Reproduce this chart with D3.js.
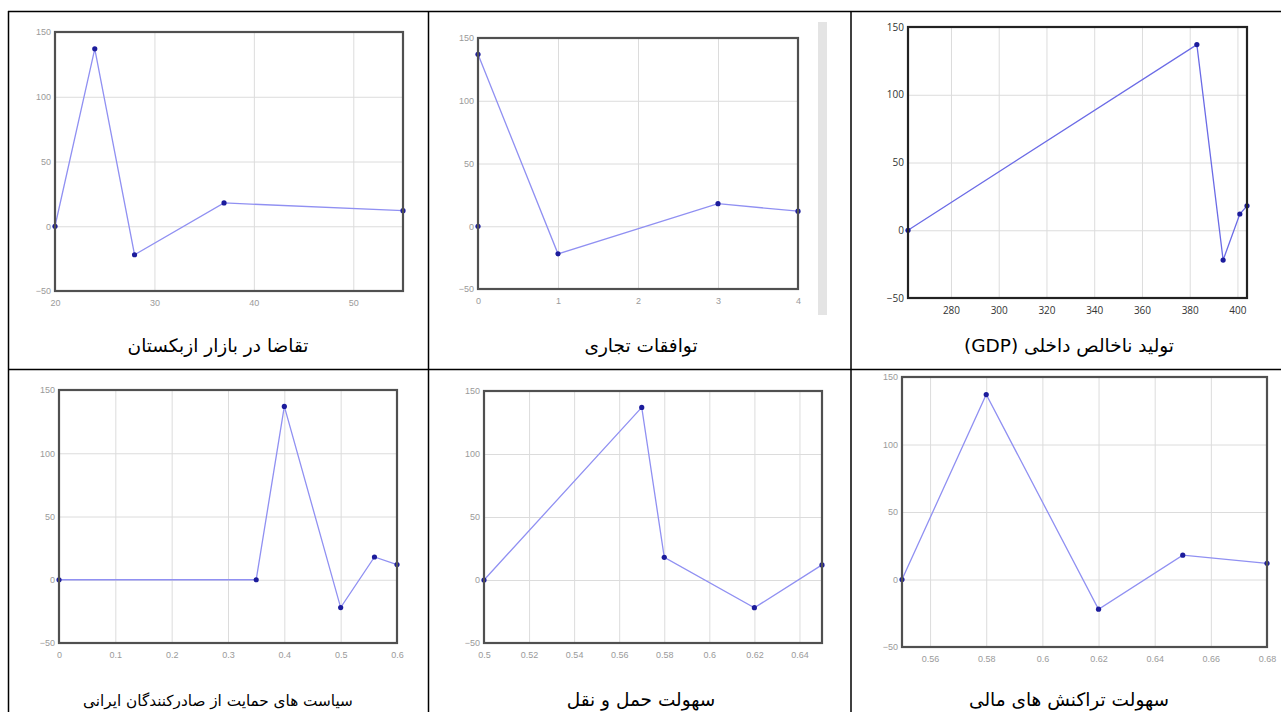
<!DOCTYPE html>
<html>
<head>
<meta charset="utf-8">
<script src="https://cdn.jsdelivr.net/npm/d3@7"></script>
<style>
  body { margin: 0; background: #fff; }
  svg { display: block; }
  .tick text { font-family: "Liberation Sans", Arial, sans-serif; }
  .caption { font-family: "DejaVu Sans", sans-serif; font-size: 18.5px; fill: #000; }
</style>
</head>
<body>
<svg id="sheet" width="1281" height="712"></svg>
<script>
// values
const yTicks = [-50, 0, 50, 100, 150]

const uzbekDemandX = [20, 24, 28, 37, 55]
const uzbekDemandY = [0, 137, -22, 18, 12]
const uzbekDemandTicks = [20, 30, 40, 50]

const tradeAgreementsX = [0, 0, 1, 3, 4]
const tradeAgreementsY = [0, 137, -22, 18, 12]
const tradeAgreementsTicks = [0, 1, 2, 3, 4]

const gdpX = [262, 383, 394, 401, 404]
const gdpY = [0, 137, -22, 12, 18]
const gdpTicks = [280, 300, 320, 340, 360, 380, 400]

const exporterSupportX = [0, 0.35, 0.4, 0.5, 0.56, 0.6]
const exporterSupportY = [0, 0, 137, -22, 18, 12]
const exporterSupportTicks = [0, 0.1, 0.2, 0.3, 0.4, 0.5, 0.6]

const transportX = [0.5, 0.57, 0.58, 0.62, 0.65]
const transportY = [0, 137, 18, -22, 12]
const transportTicks = [0.5, 0.52, 0.54, 0.56, 0.58, 0.6, 0.62, 0.64]

const financeX = [0.55, 0.58, 0.62, 0.65, 0.68]
const financeY = [0, 137, -22, 18, 12]
const financeTicks = [0.56, 0.58, 0.6, 0.62, 0.64, 0.66, 0.68]

const captions = [
  'تقاضا در بازار ازبکستان',
  'توافقات تجاری',
  'تولید ناخالص داخلی (GDP)',
  'سیاست های حمایت از صادرکنندگان ایرانی',
  'سهولت حمل و نقل',
  'سهولت تراکنش های مالی'
]

const svg = d3.select('#sheet')

// panel boxes, in page pixels
const panels = [
  { x: uzbekDemandX, y: uzbekDemandY, ticks: uzbekDemandTicks, domain: [20, 55],
    box: { l: 55, t: 32, r: 403, b: 291 }, crisp: false },
  { x: tradeAgreementsX, y: tradeAgreementsY, ticks: tradeAgreementsTicks, domain: [0, 4],
    box: { l: 478, t: 38, r: 798, b: 289 }, crisp: false },
  { x: gdpX, y: gdpY, ticks: gdpTicks, domain: [262, 404],
    box: { l: 908, t: 27, r: 1247, b: 298 }, crisp: true },
  { x: exporterSupportX, y: exporterSupportY, ticks: exporterSupportTicks, domain: [0, 0.6],
    box: { l: 59, t: 390, r: 397, b: 643 }, crisp: false },
  { x: transportX, y: transportY, ticks: transportTicks, domain: [0.5, 0.65],
    box: { l: 484, t: 391, r: 822, b: 643 }, crisp: false },
  { x: financeX, y: financeY, ticks: financeTicks, domain: [0.55, 0.68],
    box: { l: 902, t: 377, r: 1267, b: 647 }, crisp: false }
]

// scrollbar strip beside the second screenshot
svg.append('rect')
    .attr('x', 818).attr('y', 22).attr('width', 9).attr('height', 293)
    .attr('fill', '#e4e4e4')

panels.forEach(drawPanel)

// table rules
const rule = (x1, y1, x2, y2) => svg.append('line')
    .attr('x1', x1).attr('y1', y1).attr('x2', x2).attr('y2', y2)
    .attr('stroke', '#000').attr('stroke-width', 1.5)

rule(8, 11.5, 1281, 11.5)
rule(8, 369.5, 1281, 369.5)
rule(8.5, 11, 8.5, 712)
rule(428.5, 11, 428.5, 712)
rule(851, 11, 851, 712)

const colCenters = [218, 641, 1069]
const rowBaselines = [352, 706]
const maxCaptionWidth = 270

svg.selectAll('text.caption')
    .data(captions)
    .enter().append('text')
    .attr('class', 'caption')
    .attr('x', (d, i) => colCenters[i % 3])
    .attr('y', (d, i) => rowBaselines[Math.floor(i / 3)])
    .attr('text-anchor', 'middle')
    .attr('direction', 'rtl')
    .text(d => d)
    .each(function() {
      // long captions get shrunk to fit the cell like the original
      const len = this.getComputedTextLength()
      if (len > maxCaptionWidth) {
        d3.select(this).style('font-size', (18.5 * maxCaptionWidth / len) + 'px')
      }
    })


function drawPanel(p) {
  const b = p.box
  const w = b.r - b.l, h = b.b - b.t

  const x = d3.scaleLinear().domain(p.domain).range([0, w])
  const y = d3.scaleLinear().domain([-50, 150]).range([h, 0])

  const g = svg.append('g').attr('transform', `translate(${b.l},${b.t})`)
  const labelColor = p.crisp ? '#333' : '#9a9a9a'
  const labelSize = p.crisp ? 10 : 9

  const gx = g.append('g')
      .attr('transform', `translate(0,${h})`)
      .call(d3.axisBottom(x).tickValues(p.ticks).tickSize(-h).tickPadding(9)
          .tickFormat(d => String(d)))
  const gy = g.append('g')
      .call(d3.axisLeft(y).tickValues(yTicks).tickSize(-w).tickPadding(4))

  ;[gx, gy].forEach(a => {
    a.select('.domain').remove()
    a.selectAll('line').attr('stroke', '#dcdcdc')
    a.selectAll('text').attr('fill', labelColor).style('font-size', labelSize + 'px')
        .style('font-family', p.crisp ? '"Open Sans", sans-serif' : null)
  })

  const line = d3.line()
      .x((d, i) => x(p.x[i]))
      .y(d => y(d))

  g.append('path')
      .datum(p.y)
      .attr('d', line)
      .attr('fill', 'none')
      .attr('stroke', p.crisp ? '#6b6be6' : '#9090f2')
      .attr('stroke-width', 1.3)

  g.selectAll('circle')
      .data(p.y)
      .enter().append('circle')
      .attr('cx', (d, i) => x(p.x[i]))
      .attr('cy', d => y(d))
      .attr('r', 2.6)
      .attr('fill', '#1c1c9c')

  g.append('rect')
      .attr('width', w).attr('height', h)
      .attr('fill', 'none')
      .attr('stroke', p.crisp ? '#222' : '#505050')
      .attr('stroke-width', 2.2)
}
</script>
</body>
</html>
